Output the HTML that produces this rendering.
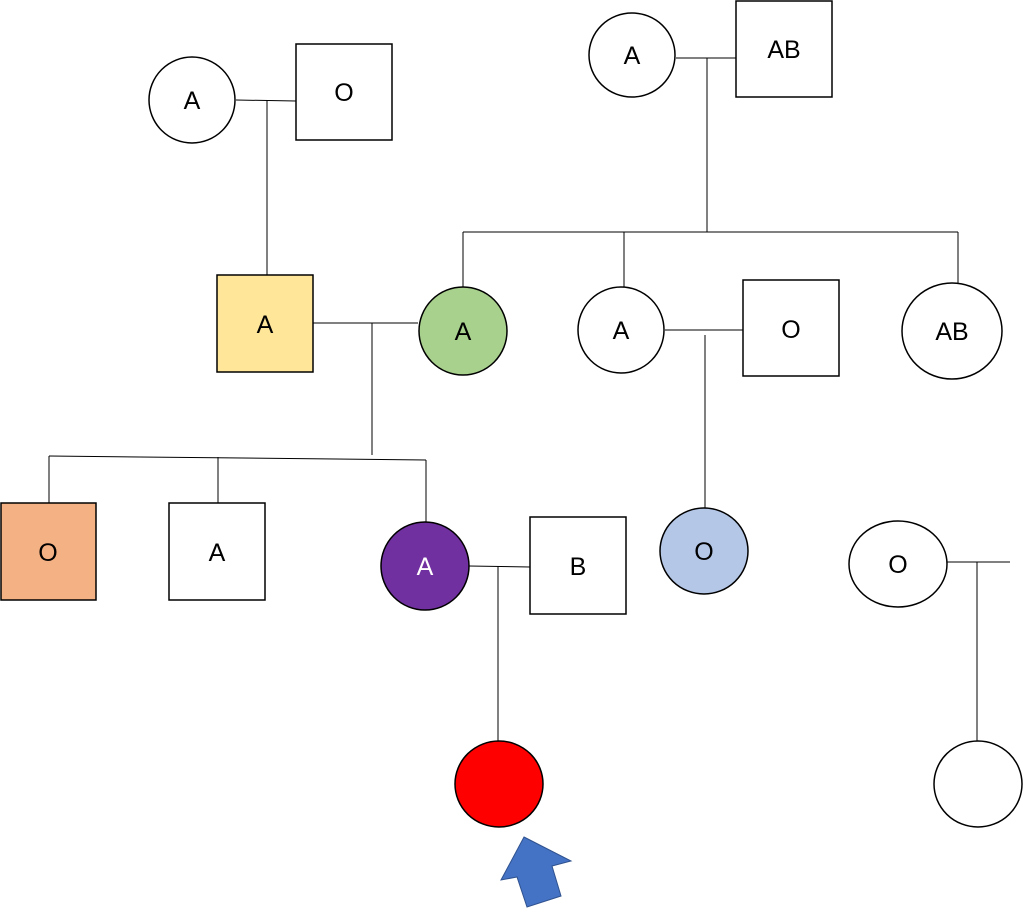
<!DOCTYPE html>
<html><head><style>body{margin:0;background:#fff}</style></head><body>
<svg width="1023" height="908" xmlns="http://www.w3.org/2000/svg" font-family="Liberation Sans, sans-serif" font-size="25">
<g stroke="#000" stroke-width="1" fill="none">
<line x1="236" y1="100" x2="296" y2="101"/><line x1="267" y1="100" x2="267" y2="275"/>
<line x1="676" y1="58" x2="736" y2="58"/><line x1="707" y1="58" x2="707" y2="232"/>
<line x1="463" y1="232" x2="958" y2="232"/>
<line x1="463" y1="232" x2="463" y2="287"/><line x1="624" y1="232" x2="624" y2="287"/><line x1="958" y1="232" x2="958" y2="283"/>
<line x1="313" y1="323" x2="418" y2="323"/><line x1="372" y1="323" x2="372" y2="455"/>
<line x1="665" y1="330" x2="743" y2="330"/><line x1="705" y1="335" x2="705" y2="508"/>
<line x1="49" y1="456" x2="426" y2="460"/>
<line x1="49" y1="456" x2="49" y2="503"/><line x1="218" y1="457" x2="218" y2="503"/><line x1="426" y1="460" x2="426" y2="522"/>
<line x1="469" y1="566" x2="530" y2="567"/><line x1="498" y1="566" x2="498" y2="741"/>
<line x1="947" y1="562" x2="1010" y2="562"/><line x1="977" y1="562" x2="977" y2="741"/>
</g>
<g stroke="#000" stroke-width="1.5">
<ellipse cx="192" cy="100" rx="43" ry="43" fill="#fff"/>
<rect x="296" y="44" width="96" height="96" fill="#fff"/>
<ellipse cx="632" cy="55" rx="43" ry="42" fill="#fff"/>
<rect x="736" y="1" width="96" height="96" fill="#fff"/>
<rect x="217" y="275" width="96" height="97" fill="#FFE699"/>
<ellipse cx="463" cy="331" rx="44" ry="44" fill="#A9D18E"/>
<ellipse cx="621" cy="330" rx="43" ry="43" fill="#fff"/>
<rect x="743" y="280" width="96" height="96" fill="#fff"/>
<ellipse cx="952" cy="331" rx="50" ry="48" fill="#fff"/>
<rect x="1" y="503" width="95" height="97" fill="#F4B183"/>
<rect x="169" y="503" width="96" height="97" fill="#fff"/>
<ellipse cx="425" cy="566" rx="44" ry="44" fill="#7030A0"/>
<rect x="530" y="517" width="96" height="97" fill="#fff"/>
<ellipse cx="704" cy="551" rx="44" ry="43" fill="#B4C7E7"/>
<ellipse cx="898" cy="564" rx="49" ry="43" fill="#fff"/>
<ellipse cx="499" cy="784" rx="44" ry="43" fill="#FF0000"/>
<ellipse cx="978" cy="784" rx="44" ry="43" fill="#fff"/>
</g>
<polygon points="524,837 571,861 552,866 561,896 527,907 517,877 501,880" fill="#4472C4" stroke="#2F528F" stroke-width="1"/>
<g text-anchor="middle" fill="#000">
<text x="192" y="109">A</text><text x="344" y="101">O</text>
<text x="632" y="64">A</text><text x="784" y="58">AB</text>
<text x="265" y="333">A</text><text x="463" y="340">A</text>
<text x="621" y="339">A</text><text x="791" y="338">O</text><text x="952" y="340">AB</text>
<text x="48" y="561">O</text><text x="217" y="561">A</text>
<text x="425" y="575" fill="#fff">A</text><text x="578" y="575">B</text>
<text x="704" y="560">O</text><text x="898" y="573">O</text>
</g>
</svg>
</body></html>
